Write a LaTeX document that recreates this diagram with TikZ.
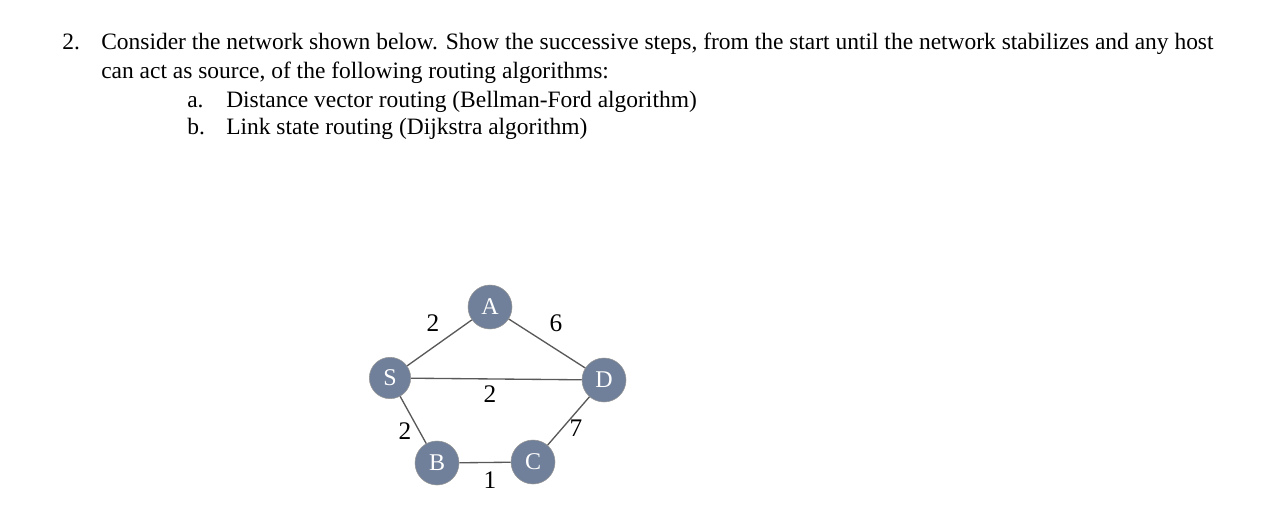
\documentclass[tikz,border=0pt]{standalone}
\usepackage{fontspec}
\setmainfont{Liberation Serif}
\begin{document}
\begin{tikzpicture}[x=0.75pt,y=-0.75pt,
  txt/.style={anchor=base west,inner sep=0pt,font=\fontsize{17.6}{20}\selectfont},
  vert/.style={circle,draw=gray!60!black!60,fill={rgb,255:red,112;green,128;blue,154},text=white,minimum size=33pt,inner sep=0pt,font=\fontsize{18}{20}\selectfont},
  edge/.style={draw=black!65,line width=1pt},
  wt/.style={font=\fontsize{19}{20}\selectfont,inner sep=0pt}]
\useasboundingbox (0,0) rectangle (1262,518);
\node[txt] (n2) at (62,49) {2.};
\node[txt] (l1) at (101,49) {Consider the network shown below. Show the successive steps, from the start until the network stabilizes and any host};
\node[txt] (l2) at (101,78) {can act as source, of the following routing algorithms:};
\node[txt] (a) at (187,107) {a.};
\node[txt] (la) at (226,107) {Distance vector routing (Bellman-Ford algorithm)};
\node[txt] (b) at (187,134) {b.};
\node[txt] (lb) at (226,134) {Link state routing (Dijkstra algorithm)};
\node[vert] (A) at (490,307) {A};
\node[vert,minimum size=31pt] (S) at (390,378) {S};
\node[vert] (D) at (604,380) {D};
\node[vert] (B) at (437,463) {B};
\node[vert] (C) at (533,462) {C};
\draw[edge] (S) -- (A);
\draw[edge] (A) -- (D);
\draw[edge] (S) -- (D);
\draw[edge] (S) -- (B);
\draw[edge] (B) -- (C);
\draw[edge] (C) -- (D);
\node[wt] (w1) at (433,323) {2};
\node[wt] (w2) at (556,323) {6};
\node[wt] (w3) at (490,394) {2};
\node[wt] (w4) at (405,431) {2};
\node[wt] (w5) at (576,428) {7};
\node[wt] (w6) at (490,480) {1};
\end{tikzpicture}
\end{document}
